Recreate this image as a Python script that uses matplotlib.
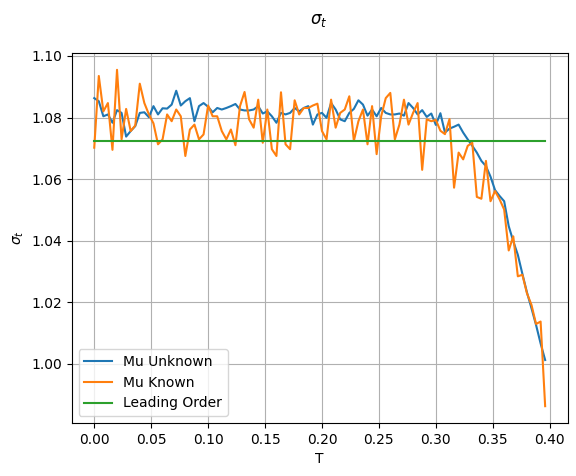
import numpy as np
import matplotlib
matplotlib.use("Agg")
import matplotlib.pyplot as plt

# T grid and values
T = np.round(np.arange(0, 0.4, 0.004), 3)

mu_unknown = [
    1.0863, 1.0853, 1.0804, 1.0810, 1.0783, 1.0824, 1.0815, 1.0738, 1.0756, 1.0772,
    1.0815, 1.0817, 1.0801, 1.0837, 1.0810, 1.0830, 1.0829, 1.0842, 1.0887, 1.0839,
    1.0853, 1.0863, 1.0788, 1.0837, 1.0847, 1.0835, 1.0817, 1.0831, 1.0826, 1.0831,
    1.0837, 1.0844, 1.0826, 1.0823, 1.0823, 1.0826, 1.0837, 1.0813, 1.0820, 1.0804,
    1.0783, 1.0815, 1.0810, 1.0815, 1.0831, 1.0820, 1.0831, 1.0837, 1.0777, 1.0810,
    1.0815, 1.0799, 1.0847, 1.0826, 1.0794, 1.0788, 1.0815, 1.0828, 1.0856, 1.0842,
    1.0806, 1.0826, 1.0804, 1.0831, 1.0815, 1.0810, 1.0810, 1.0813, 1.0806, 1.0847,
    1.0831, 1.0810, 1.0824, 1.0802, 1.0813, 1.0776, 1.0814, 1.0751, 1.0764, 1.0770,
    1.0777, 1.0751, 1.0729, 1.0708, 1.0686, 1.0659, 1.0642, 1.0608, 1.0564, 1.0545,
    1.0528, 1.0447, 1.0398, 1.0354, 1.0292, 1.0232, 1.0180, 1.0126, 1.0066, 1.0012,
]

mu_known = [
    1.0702, 1.0935, 1.0820, 1.0847, 1.0695, 1.0955, 1.0729, 1.0828, 1.0756, 1.0774,
    1.0910, 1.0847, 1.0810, 1.0781, 1.0713, 1.0729, 1.0810, 1.0788, 1.0826, 1.0804,
    1.0675, 1.0761, 1.0777, 1.0729, 1.0745, 1.0839, 1.0804, 1.0804, 1.0756, 1.0729,
    1.0761, 1.0710, 1.0837, 1.0883, 1.0794, 1.0767, 1.0858, 1.0718, 1.0826, 1.0697,
    1.0675, 1.0882, 1.0713, 1.0697, 1.0856, 1.0810, 1.0831, 1.0831, 1.0839, 1.0845,
    1.0756, 1.0729, 1.0858, 1.0767, 1.0815, 1.0826, 1.0869, 1.0724, 1.0788, 1.0826,
    1.0713, 1.0837, 1.0681, 1.0804, 1.0863, 1.0880, 1.0729, 1.0777, 1.0858, 1.0777,
    1.0815, 1.0847, 1.0630, 1.0794, 1.0788, 1.0792, 1.0757, 1.0746, 1.0795, 1.0572,
    1.0686, 1.0664, 1.0708, 1.0718, 1.0542, 1.0536, 1.0659, 1.0528, 1.0561, 1.0534,
    1.0501, 1.0368, 1.0414, 1.0284, 1.0289, 1.0229, 1.0191, 1.0129, 1.0137, 0.9862,
]

leading_order = 1.0724

fig = plt.figure(figsize=(5.76, 4.76), dpi=100)
ax = fig.add_axes([71.7 / 576, 53 / 476, 496 / 576, 370 / 476])

ax.plot(T, mu_unknown, label="Mu Unknown")
ax.plot(T, mu_known, label="Mu Known")
ax.plot(T, np.full(len(T), leading_order), label="Leading Order")

ax.set_xlabel("T")
ax.set_ylabel(r"$\sigma_t$")
ax.grid(True)
ax.legend(loc="lower left")
fig.text(319 / 576, 1 - 20 / 476, r"$\sigma_t$", ha="center", va="center", fontsize=12)

fig.savefig("out.png", dpi=100)
